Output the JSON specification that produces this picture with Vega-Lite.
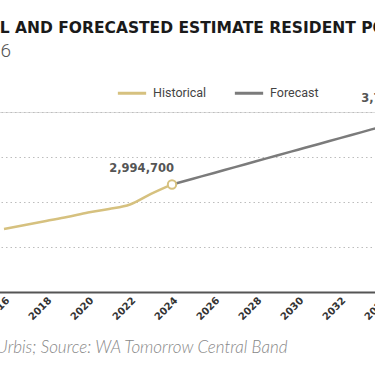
{
  "$schema": "https://vega.github.io/schema/vega-lite/v6.json",
  "width": 462,
  "height": 180,
  "autosize": {"type": "none"},
  "padding": {"left": -17, "right": -70, "top": 112, "bottom": 74},
  "background": "white",
  "title": {
    "text": "HISTORICAL AND FORECASTED ESTIMATE RESIDENT POPULATION",
    "subtitle": "2016 – 2036",
    "anchor": "start",
    "frame": "group",
    "dx": -78,
    "offset": 16,
    "font": "DejaVu Sans",
    "fontSize": 15.5,
    "fontWeight": "bold",
    "color": "#1a1a1a",
    "subtitleFont": "Roboto",
    "subtitleFontSize": 19,
    "subtitleFontWeight": 300,
    "subtitleColor": "#555555",
    "subtitlePadding": 6
  },
  "data": {
    "values": [
      {"year": 2016, "value": 2500000, "series": "Historical"},
      {"year": 2017, "value": 2544000, "series": "Historical"},
      {"year": 2018, "value": 2589000, "series": "Historical"},
      {"year": 2019, "value": 2633000, "series": "Historical"},
      {"year": 2020, "value": 2683000, "series": "Historical"},
      {"year": 2021, "value": 2722000, "series": "Historical"},
      {"year": 2022, "value": 2772000, "series": "Historical"},
      {"year": 2023, "value": 2889000, "series": "Historical"},
      {"year": 2024, "value": 2994700, "series": "Historical"},
      {"year": 2024, "value": 2994700, "series": "Forecast"},
      {"year": 2025, "value": 3059000, "series": "Forecast"},
      {"year": 2026, "value": 3123000, "series": "Forecast"},
      {"year": 2027, "value": 3188000, "series": "Forecast"},
      {"year": 2028, "value": 3252000, "series": "Forecast"},
      {"year": 2029, "value": 3317000, "series": "Forecast"},
      {"year": 2030, "value": 3381000, "series": "Forecast"},
      {"year": 2031, "value": 3445000, "series": "Forecast"},
      {"year": 2032, "value": 3510000, "series": "Forecast"},
      {"year": 2033, "value": 3574000, "series": "Forecast"},
      {"year": 2034, "value": 3639000, "series": "Forecast"},
      {"year": 2035, "value": 3703000, "series": "Forecast"},
      {"year": 2036, "value": 3767500, "series": "Forecast"}
    ]
  },
  "encoding": {
    "x": {
      "field": "year",
      "type": "quantitative",
      "scale": {"domain": [2015, 2037], "nice": false, "zero": false},
      "axis": {
        "values": [2016, 2018, 2020, 2022, 2024, 2026, 2028, 2030, 2032, 2034, 2036],
        "format": "d",
        "labelAngle": -45,
        "labelFont": "DejaVu Sans",
        "labelFontSize": 10,
        "labelFontWeight": "bold",
        "labelColor": "#333333",
        "labelOverlap": false,
        "labelPadding": 3,
        "ticks": false,
        "grid": false,
        "domainColor": "#555555",
        "domainWidth": 2,
        "title": "Prepared by Urbis; Source: WA Tomorrow Central Band",
        "titleFont": "Lato",
        "titleFontStyle": "italic",
        "titleFontWeight": 300,
        "titleFontSize": 17,
        "titleColor": "#888888",
        "titleAlign": "right",
        "titleAnchor": "start",
        "titleBaseline": "alphabetic",
        "titleX": 304,
        "titleY": 60
      }
    },
    "y": {
      "field": "value",
      "type": "quantitative",
      "scale": {"domain": [1800000, 3800000], "nice": false, "zero": false},
      "axis": {
        "values": [1800000, 2300000, 2800000, 3300000, 3800000],
        "labels": false,
        "ticks": false,
        "domain": false,
        "title": null,
        "grid": true,
        "gridDash": [1.5, 3],
        "gridColor": "#bdbdbd",
        "gridWidth": 1.2
      }
    }
  },
  "layer": [
    {
      "mark": {"type": "line", "strokeWidth": 2.5, "interpolate": "monotone"},
      "encoding": {
        "color": {
          "field": "series",
          "type": "nominal",
          "scale": {"domain": ["Historical", "Forecast"], "range": ["#d6c17f", "#7b7b7b"]},
          "legend": {
            "orient": "none",
            "legendX": 133,
            "legendY": -35,
            "direction": "horizontal",
            "title": null,
            "symbolType": "stroke",
            "symbolStrokeWidth": 3,
            "symbolSize": 800,
            "labelFont": "Roboto",
            "labelFontSize": 12.5,
            "labelColor": "#444444",
            "labelOffset": 5,
            "columnPadding": 21
          }
        }
      }
    },
    {
      "transform": [{"filter": "datum.year == 2024 && datum.series == 'Historical'"}],
      "mark": {"type": "point", "filled": true, "fill": "white", "stroke": "#d6c17f", "strokeWidth": 2, "size": 70, "opacity": 1}
    },
    {
      "transform": [{"filter": "(datum.year == 2024 && datum.series == 'Historical') || datum.year == 2036"}],
      "mark": {"type": "text", "align": "right", "baseline": "alphabetic", "dx": 2, "dy": -12.5, "font": "DejaVu Sans", "fontWeight": "bold", "fontSize": 11.5, "color": "#555555"},
      "encoding": {"text": {"field": "value", "type": "quantitative", "format": ","}}
    }
  ]
}
